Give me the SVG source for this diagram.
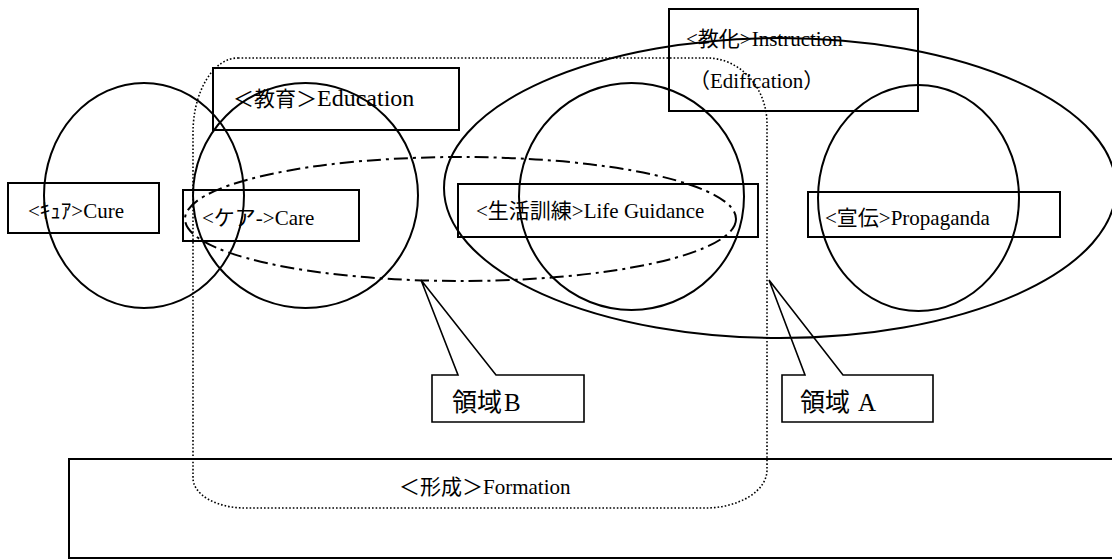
<svg xmlns="http://www.w3.org/2000/svg" width="1112" height="559" viewBox="0 0 1112 559">
<style>
.box{fill:none;stroke:#000;stroke-width:2}
.ring{fill:none;stroke:#000;stroke-width:2}
.dashdot{fill:none;stroke:#000;stroke-width:2;stroke-dasharray:14 5 3 5}
.dots{fill:none;stroke:#000;stroke-width:1.6;stroke-dasharray:1.6 2}
.lead{fill:none;stroke:#000;stroke-width:1.6}
text{font-family:"Liberation Serif","Noto Sans CJK JP",serif;fill:#000;font-size:21px}
.lbl{font-size:25px}
</style>
<rect width="1112" height="559" fill="#fff"/>
<g id="formation"><rect class="box" x="69" y="459" width="1050" height="99"/><text x="399" y="494">＜形成＞Formation</text></g>
<g id="instruction"><rect class="box" x="669" y="9" width="249" height="102"/><text x="686" y="46">&lt;教化&gt;Instruction</text><text x="689" y="88" font-size="20">（Edification）</text></g>
<g id="education"><rect class="box" x="213" y="68" width="246" height="62"/><text x="233" y="106">＜教育＞<tspan font-size="24">Education</tspan></text></g>
<g id="cure"><rect class="box" x="8" y="183" width="151" height="50"/><text x="28" y="218">&lt;ｷｭｱ&gt;Cure</text></g>
<g id="care"><rect class="box" x="183" y="190" width="176" height="51"/><text x="202" y="225">&lt;ケア-&gt;Care</text></g>
<g id="lifeguidance"><rect class="box" x="458" y="184" width="300" height="53"/><text x="476" y="218">&lt;生活訓練&gt;Life Guidance</text></g>
<g id="propaganda"><rect class="box" x="808" y="192" width="252" height="45"/><text x="825" y="225">&lt;宣伝&gt;Propaganda</text></g>
<g id="regions">
<ellipse class="ring" cx="144" cy="195.5" rx="100" ry="112.5"/>
<ellipse class="ring" cx="305.5" cy="195.5" rx="112.5" ry="112.5"/>
<ellipse class="ring" cx="631.5" cy="196.5" rx="112.5" ry="113.5"/>
<ellipse class="ring" cx="918.5" cy="198" rx="100.5" ry="113"/>
<ellipse class="ring" cx="780" cy="188" rx="336" ry="150"/>
<ellipse class="dashdot" cx="460.5" cy="219" rx="275.5" ry="62"/>
<path class="dots" d="M238,58 H707 A60,66 0 0 1 767,124 V470 A62,38 0 0 1 705,508 H245 A52,30 0 0 1 193,478 V133 A45,75 0 0 1 238,58 Z"/>
</g>
<g id="connectors">
<path class="lead" d="M432,375 H458 L421,280 L496,375 H584 V422 H432 Z"/>
<path class="lead" d="M782,375 H805 L769,280 L843,375 H933 V422 H782 Z"/>
</g>
<g id="labels"><text class="lbl" x="452" y="411">領域<tspan dx="2">B</tspan></text><text class="lbl" x="800" y="411">領域<tspan dx="8">A</tspan></text></g>
</svg>
